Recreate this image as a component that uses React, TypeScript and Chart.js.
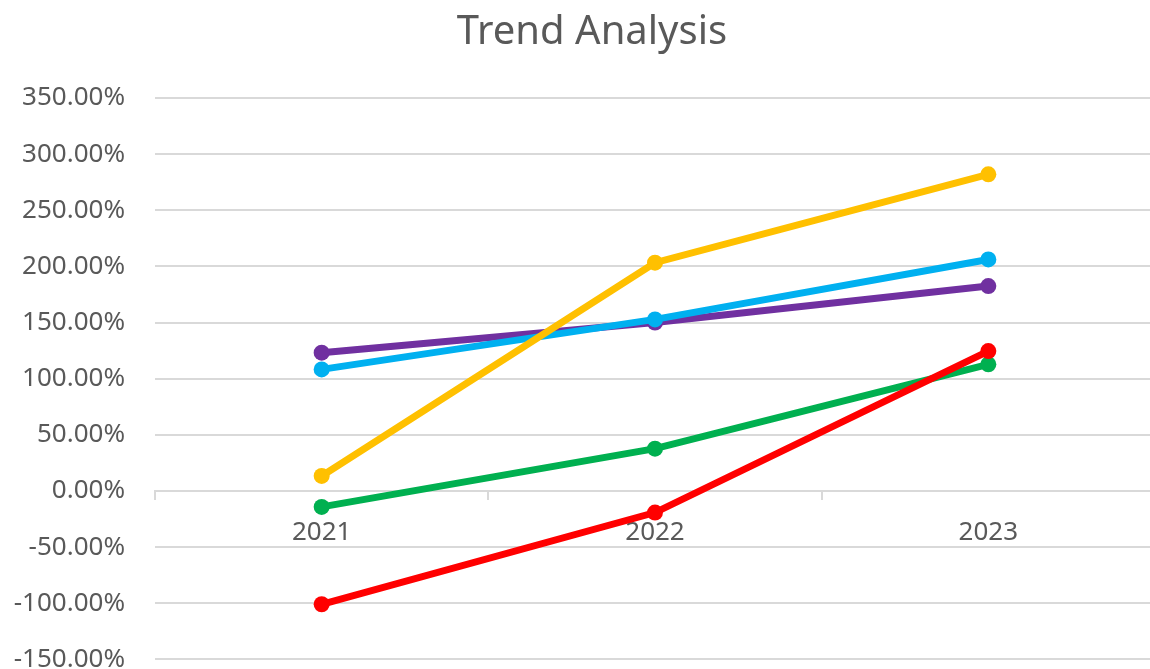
import React, { useEffect, useRef } from "react";
import { Chart, registerables } from "chart.js";

Chart.register(...registerables);

// Category axis
const years = ["2021", "2022", "2023"];

// Growth rates per year, in percent
const yellowSeries = [13.4, 203.3, 282.0];
const blueSeries = [108.3, 152.8, 206.2];
const purpleSeries = [123.2, 150.0, 182.5];
const greenSeries = [-14.2, 37.7, 112.8];
const redSeries = [-100.9, -19.2, 124.6];

// Value axis range
const yMin = -150;
const yMax = 350;
const yStep = 50;

const chartTitle = "Trend Analysis";

const FONT = "'Noto Sans', 'Open Sans', sans-serif";
const TEXT = "#595959";
const GRID = "#d9d9d9";

const CANVAS_W = 1165;
const CANVAS_H = 705;

function line(label: string, data: number[], color: string, order: number) {
  return {
    label,
    data,
    borderColor: color,
    backgroundColor: color,
    pointBackgroundColor: color,
    pointBorderColor: color,
    borderWidth: 7,
    pointRadius: 8,
    pointBorderWidth: 0,
    tension: 0,
    fill: false,
    order,
  };
}

// Nudges the title so it is centred over the plot rather than the whole canvas
const titleOffset = {
  id: "titleOffset",
  afterLayout(chart: any) {
    const block = chart.titleBlock;
    if (block) block.left += 16;
  },
};

export default function App() {
  const canvasRef = useRef<HTMLCanvasElement | null>(null);

  useEffect(() => {
    const canvas = canvasRef.current;
    if (!canvas) return;
    const chart = new Chart(canvas, {
      type: "line",
      data: {
        labels: years,
        datasets: [
          line("Purple", purpleSeries, "#7030A0", 5),
          line("Blue", blueSeries, "#00B0F0", 4),
          line("Green", greenSeries, "#00B050", 3),
          line("Red", redSeries, "#FF0000", 2),
          line("Yellow", yellowSeries, "#FFC000", 1),
        ],
      },
      options: {
        responsive: false,
        animation: false,
        layout: { padding: { left: 13, right: 10, top: 0, bottom: 20 } },
        plugins: {
          legend: { display: false },
          tooltip: { enabled: false },
          title: {
            display: true,
            text: chartTitle,
            color: TEXT,
            font: { family: FONT, size: 40, weight: "normal" },
            padding: { top: 9, bottom: 41 },
          },
        },
        scales: {
          x: {
            type: "category",
            offset: true,
            position: { y: 0 } as any,
            grid: {
              display: true,
              drawOnChartArea: false,
              drawTicks: true,
              tickLength: 8,
              offset: true,
              color: GRID,
              lineWidth: 2,
            },
            border: { display: true, color: GRID, width: 2 },
            ticks: {
              color: TEXT,
              font: { family: FONT, size: 26 },
              padding: 18,
              maxRotation: 0,
            },
          },
          y: {
            min: yMin,
            max: yMax,
            afterFit: (scale: any) => {
              scale.width = 142;
            },
            grid: { color: GRID, lineWidth: 2, drawTicks: false },
            border: { display: false },
            ticks: {
              stepSize: yStep,
              color: TEXT,
              font: { family: FONT, size: 26 },
              padding: 30,
              callback: (v: any) => Number(v).toFixed(2) + "%",
            },
          },
        },
      },
      plugins: [titleOffset],
    });
    return () => chart.destroy();
  }, []);

  return (
    <div
      style={{
        position: "fixed",
        left: 0,
        top: 0,
        width: CANVAS_W,
        height: CANVAS_H,
        background: "#ffffff",
      }}
    >
      <canvas
        ref={canvasRef}
        width={CANVAS_W}
        height={CANVAS_H}
        style={{ width: CANVAS_W, height: CANVAS_H, display: "block" }}
      />
    </div>
  );
}
